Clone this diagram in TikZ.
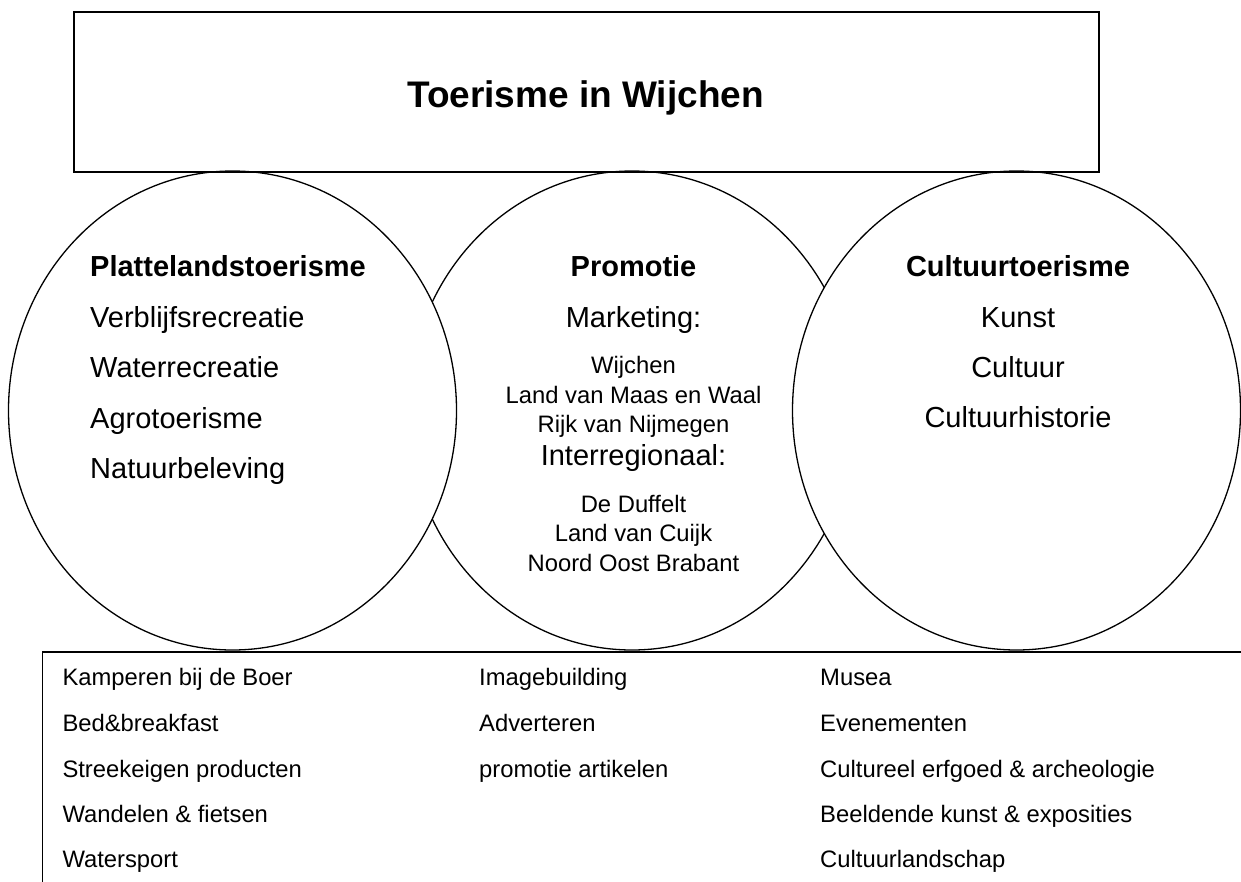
\documentclass[tikz,border=0pt]{standalone}
\usepackage{fontspec}
\setmainfont{Liberation Sans}
\usetikzlibrary{shapes.geometric}
\begin{document}
\begin{tikzpicture}[x=1pt,y=-1pt,
  ring/.style={draw, ellipse, line width=1.3pt, fill=white, minimum width=448pt, minimum height=479pt, inner sep=0pt},
  frame/.style={draw, line width=1.6pt, inner sep=0pt, anchor=north west},
  ttl/.style={font=\fontsize{37}{44}\selectfont\bfseries, inner sep=0pt, anchor=base},
  hd/.style={font=\fontsize{29}{34}\selectfont\bfseries, inner sep=0pt},
  itm/.style={font=\fontsize{29}{34}\selectfont, inner sep=0pt},
  sml/.style={font=\fontsize{23.8}{28}\selectfont, inner sep=0pt, anchor=base},
  lst/.style={font=\fontsize{23.8}{28}\selectfont, inner sep=0pt, anchor=base west}]
\useasboundingbox (0,0) rectangle (1241,881);
\clip (0,0) rectangle (1241,881);
% circles: middle first, left and right on top
\node[ring] (mid) at (632,410.5) {};
\node[ring] (lft) at (232.5,410.5) {};
\node[ring] (rgt) at (1016.5,410.5) {};
% title box
\node[frame, minimum width=1025pt, minimum height=160pt] (top) at (73,11) {};
\node[ttl] (title) at (585.5,107) {Toerisme in Wijchen};
% bottom box (cut off by the page at right and bottom)
\node[frame, minimum width=1240pt, minimum height=260pt] (list) at (41.5,651) {};
% left circle
\node[hd, anchor=base west] (l0) at (90,276.7) {Plattelandstoerisme};
\node[itm, anchor=base west] (l1) at (90,327.2) {Verblijfsrecreatie};
\node[itm, anchor=base west] (l2) at (90,377.7) {Waterrecreatie};
\node[itm, anchor=base west] (l3) at (90,428.2) {Agrotoerisme};
\node[itm, anchor=base west] (l4) at (90,478.2) {Natuurbeleving};
% middle circle
\node[hd, anchor=base] (m0) at (633.5,276.7) {Promotie};
\node[itm, anchor=base] (m1) at (633.5,327.7) {Marketing:};
\node[sml] (m2) at (633.5,373.3) {Wijchen};
\node[sml] (m3) at (633.5,403.3) {Land van Maas en Waal};
\node[sml] (m4) at (633.5,432.7) {Rijk van Nijmegen};
\node[itm, anchor=base] (m5) at (633.5,465.7) {Interregionaal:};
\node[sml] (m6) at (633.5,512.3) {De Duffelt};
\node[sml] (m7) at (633.5,541.7) {Land van Cuijk};
\node[sml] (m8) at (633.5,571) {Noord Oost Brabant};
% right circle
\node[hd, anchor=base] (r0) at (1018,276.7) {Cultuurtoerisme};
\node[itm, anchor=base] (r1) at (1018,327.7) {Kunst};
\node[itm, anchor=base] (r2) at (1018,377.7) {Cultuur};
\node[itm, anchor=base] (r3) at (1018,427.7) {Cultuurhistorie};
% bottom list
\node[lst] (a1) at (62.3,685.7) {Kamperen bij de Boer};
\node[lst] (a2) at (62.3,731) {Bed\&breakfast};
\node[lst] (a3) at (62.3,777) {Streekeigen producten};
\node[lst] (a4) at (62.3,822.3) {Wandelen \& fietsen};
\node[lst] (a5) at (62.3,867.7) {Watersport};
\node[lst] (b1) at (479,685.7) {Imagebuilding};
\node[lst] (b2) at (479,731) {Adverteren};
\node[lst] (b3) at (479,777) {promotie artikelen};
\node[lst] (c1) at (820,685.7) {Musea};
\node[lst] (c2) at (820,731) {Evenementen};
\node[lst] (c3) at (820,777) {Cultureel erfgoed \& archeologie};
\node[lst] (c4) at (820,822.3) {Beeldende kunst \& exposities};
\node[lst] (c5) at (820,867.7) {Cultuurlandschap};
\end{tikzpicture}
\end{document}
